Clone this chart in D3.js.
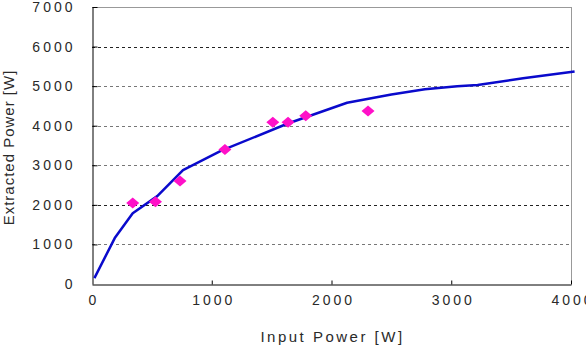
<!DOCTYPE html>
<html>
<head>
<meta charset="utf-8">
<script src="https://cdn.jsdelivr.net/npm/d3@7"></script>
<style>
  body { margin: 0; background: #fff; }
  text { font-family: "Liberation Sans", Arial, sans-serif; fill: #2a2a2a; }
</style>
</head>
<body>
<div id="chart"></div>
<script>
// fitted curve (Input power -> extracted power)
const curveInput = [20, 190, 340, 545, 760, 1080, 1630, 2130, 2500, 2780, 3050, 3220, 3600, 4030];
const curveExtracted = [150, 1160, 1790, 2220, 2880, 3370, 4050, 4580, 4790, 4920, 5000, 5030, 5200, 5370];

// measured points
const measInput = [340, 530, 735, 1110, 1510, 1637, 1785, 2305];
const measExtracted = [2050, 2080, 2600, 3400, 4090, 4090, 4250, 4370];

// axis ticks
const xTicks = [0, 1000, 2000, 3000, 4000];
const yTicks = [0, 1000, 2000, 3000, 4000, 5000, 6000, 7000];
const gridDark = [2000, 6000];

const W = 586, H = 357;
const plot = { left: 92, right: 571, top: 7, bottom: 284 };

const svg = d3.select("#chart").append("svg")
    .attr("width", W)
    .attr("height", H);

svg.append("rect").attr("width", W).attr("height", H).attr("fill", "#fff");

const x = d3.scaleLinear().domain([0, 4000]).range([plot.left, plot.right]);
const y = d3.scaleLinear().domain([0, 7000]).range([plot.bottom, plot.top]);

// gridlines
svg.append("g")
    .selectAll("line")
    .data(yTicks.filter(v => v > 0 && v < 7000))
    .enter()
    .append("line")
    .attr("x1", plot.left)
    .attr("x2", plot.right)
    .attr("y1", d => Math.round(y(d)) + 0.5)
    .attr("y2", d => Math.round(y(d)) + 0.5)
    .attr("stroke", d => gridDark.includes(d) ? "#222" : "#777")
    .attr("stroke-dasharray", "3,3");

// frame top / right
svg.append("line")
    .attr("x1", plot.left).attr("x2", plot.right)
    .attr("y1", plot.top + 0.5).attr("y2", plot.top + 0.5)
    .attr("stroke", "#999");
svg.append("line")
    .attr("x1", plot.right + 0.5).attr("x2", plot.right + 0.5)
    .attr("y1", plot.top).attr("y2", plot.bottom)
    .attr("stroke", "#999");

// axes
const fmt = d3.format("d");
const yAxis = svg.append("g")
    .attr("transform", `translate(${plot.left + 0.5},0)`)
    .call(d3.axisLeft(y).tickValues(yTicks).tickFormat(fmt).tickSize(-5).tickPadding(17).tickSizeOuter(0));

const xAxis = svg.append("g")
    .attr("transform", `translate(0,${plot.bottom + 0.5})`)
    .call(d3.axisBottom(x).tickValues(xTicks).tickFormat(fmt).tickSize(-4).tickPadding(11).tickSizeOuter(0));

[xAxis, yAxis].forEach(a => {
    a.select(".domain").attr("stroke", "#000");
    a.selectAll(".tick line").attr("stroke", "#000");
    a.selectAll("text")
        .attr("font-size", "14px")
        .attr("letter-spacing", "3px")
        .attr("fill", "#2a2a2a");
});
xAxis.selectAll("text").attr("dx", "1.5");
xAxis.selectAll(".tick").filter(d => d === 0).select("line").remove();
yAxis.selectAll(".tick").filter(d => d === 0).select("line").remove();

// curve
const line = d3.line()
    .x(d => x(d[0]))
    .y(d => y(d[1]));

svg.append("path")
    .datum(curveInput.map((v, i) => [v, curveExtracted[i]]))
    .attr("d", line)
    .attr("fill", "none")
    .attr("stroke", "#0a0acc")
    .attr("stroke-width", 2.5)
    .attr("stroke-linejoin", "round");

// markers
svg.append("g")
    .selectAll("path")
    .data(measInput.map((v, i) => [v, measExtracted[i]]))
    .enter()
    .append("path")
    .attr("transform", d => `translate(${x(d[0])},${y(d[1])})`)
    .attr("d", "M0,-5.5 L6.5,0 L0,5.5 L-6.5,0 Z M-3,-3 h6 v6 h-6 Z")
    .attr("fill", "#ff10c8");

// axis titles
svg.append("text")
    .attr("x", (plot.left + plot.right) / 2 + 1)
    .attr("y", 342)
    .attr("text-anchor", "middle")
    .attr("font-size", "15px")
    .attr("letter-spacing", "2.5px")
    .text("Input Power [W]");

svg.append("text")
    .attr("transform", `translate(14,${(plot.top + plot.bottom) / 2 + 2}) rotate(-90)`)
    .attr("text-anchor", "middle")
    .attr("font-size", "15px")
    .attr("letter-spacing", "1px")
    .text("Extracted Power [W]");
</script>
</body>
</html>
